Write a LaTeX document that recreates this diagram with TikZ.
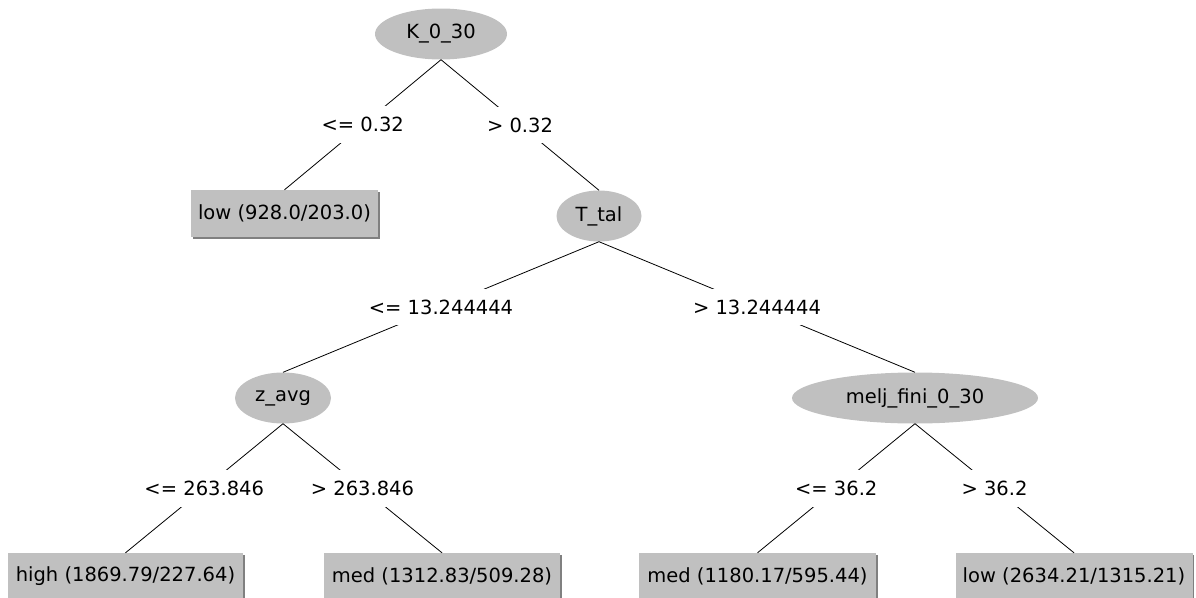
\documentclass[tikz,border=0pt]{standalone}
\usepackage{fontspec}
\setmainfont{DejaVu Sans}
\usetikzlibrary{shapes.geometric}
\definecolor{nodegray}{RGB}{192,192,192}
\definecolor{edgegray}{RGB}{128,128,128}

\begin{document}
\begin{tikzpicture}[x=1pt,y=-1pt,font=\fontsize{19.5}{22}\selectfont]
            \useasboundingbox (0,0) rectangle (1196,597);
            \tikzset{
                attr/.style={ellipse,fill=nodegray,inner sep=0pt,minimum height=51pt},
                leaf/.style={rectangle,fill=nodegray,inner sep=0pt,minimum height=47pt,
                    preaction={fill=edgegray,transform canvas={xshift=1.5pt,yshift=-1.5pt}}},
                lbl/.style={fill=white,inner xsep=1pt,inner ysep=11pt}
            }
            \node[attr,minimum width=132pt] (k030) at (441,34) {K\_0\_30};
            \node[leaf,minimum width=187pt] (low1) at (284.5,213.5) {low (928.0/203.0)};
            \node[attr,minimum width=85pt] (ttal) at (599,216) {T\_tal};
            \node[attr,minimum width=96pt] (zavg) at (283,398) {z\_avg};
            \node[attr,minimum width=246pt] (melj) at (915,398) {melj\_fini\_0\_30};
            \node[leaf,minimum width=235pt] (high) at (125.5,576.5) {high (1869.79/227.64)};
            \node[leaf,minimum width=236pt] (med1) at (442,576.5) {med (1312.83/509.28)};
            \node[leaf,minimum width=237pt] (med2) at (757.5,576.5) {med (1180.17/595.44)};
            \node[leaf,minimum width=237pt] (low2) at (1074,576.5) {low (2634.21/1315.21)};
            \draw (k030.south) edge [line width=0.8pt] node[lbl]{<= 0.32} (low1.north);
            \draw (k030.south) edge [line width=0.8pt] node[lbl]{> 0.32} (ttal.north);
            \draw (ttal.south) edge [line width=0.8pt] node[lbl]{<= 13.244444} (zavg.north);
            \draw (ttal.south) edge [line width=0.8pt] node[lbl]{> 13.244444} (melj.north);
            \draw (zavg.south) edge [line width=0.8pt] node[lbl]{<= 263.846} (high.north);
            \draw (zavg.south) edge [line width=0.8pt] node[lbl]{> 263.846} (med1.north);
            \draw (melj.south) edge [line width=0.8pt] node[lbl]{<= 36.2} (med2.north);
            \draw (melj.south) edge [line width=0.8pt] node[lbl]{> 36.2} (low2.north);
        \end{tikzpicture}
\end{document}
